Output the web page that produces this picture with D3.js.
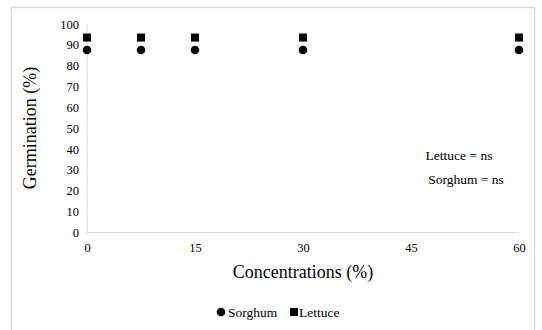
<!DOCTYPE html>
<html><head><meta charset="utf-8">
<script src="https://cdn.jsdelivr.net/npm/d3@7"></script>
<style>html,body{margin:0;padding:0;background:#fff;}svg{display:block;}
svg text{font-family:"Liberation Serif","Times New Roman","DejaVu Serif",serif !important;}</style>
</head><body>
<svg id="c" width="542" height="330"></svg>
<script>
const concentrations = [0, 7.5, 15, 30, 60];
const sorghum = [87.5, 87.5, 87.5, 87.5, 87.5];
const lettuce = [93.5, 93.5, 93.5, 93.5, 93.5];
const xTicks = [0, 15, 30, 45, 60];
const yTicks = [0, 10, 20, 30, 40, 50, 60, 70, 80, 90, 100];

const svg = d3.select("#c");

svg.append("rect").attr("x", 11.5).attr("y", 7.5).attr("width", 523).attr("height", 330)
  .attr("fill", "#fff").attr("stroke", "#d9d9d9").attr("stroke-width", 1.5);

const x = d3.scaleLinear().domain([0, 60]).range([87, 519]);
const y = d3.scaleLinear().domain([0, 100]).range([232.5, 24]);

svg.append("line").attr("x1", x(0)).attr("x2", x(0)).attr("y1", y(100)).attr("y2", y(0))
  .attr("stroke", "#d9d9d9").attr("stroke-width", 1);
svg.append("line").attr("x1", x(0)).attr("x2", x(60)).attr("y1", y(0)).attr("y2", y(0))
  .attr("stroke", "#d9d9d9").attr("stroke-width", 1);

const yAxis = svg.append("g").attr("transform", `translate(${x(0)},0)`)
  .call(d3.axisLeft(y).tickValues(yTicks).tickSize(0).tickPadding(8));
yAxis.select(".domain").remove();
yAxis.selectAll("text").attr("font-size", 12.5).attr("fill", "#000");

const xAxis = svg.append("g").attr("transform", `translate(0,${y(0)})`)
  .call(d3.axisBottom(x).tickValues(xTicks).tickSize(0).tickPadding(11));
xAxis.select(".domain").remove();
xAxis.selectAll("text").attr("font-size", 12.5).attr("fill", "#000");

svg.append("text").attr("x", 303).attr("y", 278).attr("text-anchor", "middle")
  .attr("font-size", 18).text("Concentrations (%)");
svg.append("text").attr("transform", "translate(36,128) rotate(-90)").attr("text-anchor", "middle")
  .attr("font-size", 18).text("Germination (%)");

const sq = 8;
svg.append("g").selectAll("rect").data(concentrations).join("rect")
  .attr("x", (d) => x(d) - sq / 2).attr("y", (d, i) => y(lettuce[i]) - sq / 2)
  .attr("width", sq).attr("height", sq).attr("fill", "#000");
svg.append("g").selectAll("circle").data(concentrations).join("circle")
  .attr("cx", (d) => x(d)).attr("cy", (d, i) => y(sorghum[i])).attr("r", 4.3).attr("fill", "#000");

svg.append("text").attr("x", 459).attr("y", 160).attr("text-anchor", "middle")
  .attr("font-size", 13.5).text("Lettuce = ns");
svg.append("text").attr("x", 466).attr("y", 184).attr("text-anchor", "middle")
  .attr("font-size", 13.5).text("Sorghum = ns");

svg.append("circle").attr("cx", 221).attr("cy", 312).attr("r", 4.3).attr("fill", "#000");
svg.append("text").attr("x", 228).attr("y", 316.5).attr("font-size", 13.5).text("Sorghum");
svg.append("rect").attr("x", 290).attr("y", 308).attr("width", 8).attr("height", 8).attr("fill", "#000");
svg.append("text").attr("x", 299).attr("y", 316.5).attr("font-size", 13.5).text("Lettuce");
</script>
</body></html>
